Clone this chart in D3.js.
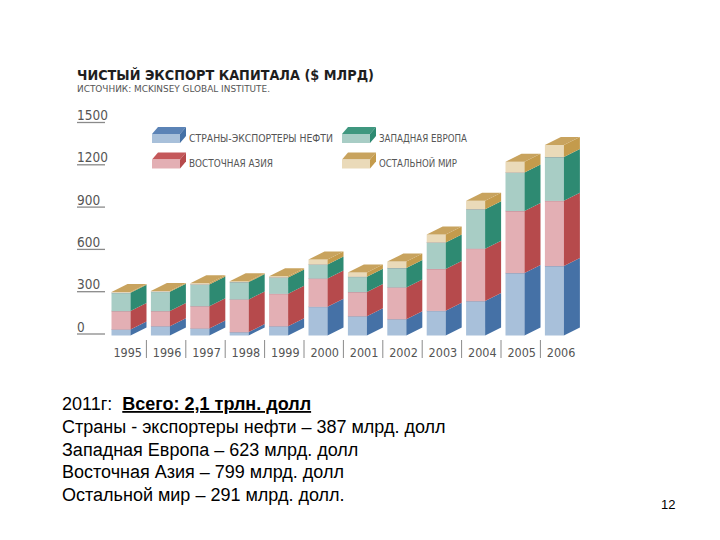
<!DOCTYPE html>
<html>
<head>
<meta charset="utf-8">
<style>
    body {
        margin: 0;
        background: #fff;
    }

    .title {
        font-family: "DejaVu Sans", sans-serif;
        font-weight: bold;
        font-size: 14px;
        fill: #1e1e1e;
    }

    .narrow {
        font-family: "Liberation Sans Narrow", "DejaVu Sans Condensed", sans-serif;
        fill: #555;
    }

    .note {
        font-family: "Liberation Sans", Arial, sans-serif;
        fill: #000;
    }
</style>
</head>

<body>
    <svg id='viz' width='720' height='540'></svg>

<script src="https://cdnjs.cloudflare.com/ajax/libs/d3/7.8.5/d3.min.js"></script>

<script>
    // values, $ bn
    var years = ['1995', '1996', '1997', '1998', '1999', '2000', '2001', '2002', '2003', '2004', '2005', '2006'];
    var oilExporters  = [43, 66, 50, 24, 66, 204, 137, 116, 175, 244, 443, 493];
    var eastAsia      = [130, 107, 158, 232, 230, 200, 171, 225, 297, 372, 440, 462];
    var westernEurope = [130, 138, 154, 123, 116, 100, 109, 138, 188, 280, 273, 311];
    var restOfWorld   = [5, 5, 8, 6, 8, 35, 29, 45, 57, 59, 76, 85];

    var seriesNames = ['СТРАНЫ-ЭКСПОРТЕРЫ НЕФТИ', 'ВОСТОЧНАЯ АЗИЯ', 'ЗАПАДНАЯ ЕВРОПА', 'ОСТАЛЬНОЙ МИР'];
    var yTicks = [0, 300, 600, 900, 1200, 1500];

    var noteLines = [
        'Страны - экспортеры нефти – 387 млрд. долл',
        'Западная Европа – 623 млрд. долл',
        'Восточная Азия – 799 млрд. долл',
        'Остальной мир – 291 млрд. долл.'
    ];

    // front / side / top shades per series (same order as the stack)
    var keys = ['oil', 'asia', 'europe', 'rest'];
    var shades = {
        oil:    { front: '#a8c0da', side: '#4571a6', top: '#5b83b6' },
        asia:   { front: '#e3afb4', side: '#b64a4c', top: '#c4585a' },
        europe: { front: '#a8cdc5', side: '#2e8a72', top: '#3f977f' },
        rest:   { front: '#eadab9', side: '#c49b4c', top: '#c8a35e' }
    };

    var rows = years.map(function(y, i) {
        return { year: y, oil: oilExporters[i], asia: eastAsia[i], europe: westernEurope[i], rest: restOfWorld[i] };
    });

    var svg = d3.select('#viz');

    var x = d3.scaleBand()
        .domain(years)
        .range([106, 106 + 39.4 * years.length]);

    var y = d3.scaleLinear()
        .domain([0, 1500])
        .range([335.5, 124]);

    var depthX = 16, depthY = 8, frontW = 19;

    // title
    svg.append('text')
        .attr('class', 'title')
        .attr('x', 77).attr('y', 79.5)
        .attr('textLength', 297)
        .attr('lengthAdjust', 'spacingAndGlyphs')
        .text('ЧИСТЫЙ ЭКСПОРТ КАПИТАЛА ($ МЛРД)');

    svg.append('text')
        .attr('class', 'narrow')
        .attr('x', 77).attr('y', 92)
        .attr('font-size', 9.5)
        .attr('textLength', 193)
        .attr('lengthAdjust', 'spacingAndGlyphs')
        .text('ИСТОЧНИК: MCKINSEY GLOBAL INSTITUTE.');

    // y ticks: label sitting on a short underline
    var tick = svg.append('g').selectAll('g')
        .data(yTicks)
        .enter().append('g');

    tick.append('line')
        .attr('x1', 77).attr('x2', 105)
        .attr('y1', function(d) { return y(d) - 1.5; })
        .attr('y2', function(d) { return y(d) - 1.5; })
        .attr('stroke', '#8a8a8a')
        .attr('stroke-width', 1.3);

    tick.append('text')
        .attr('class', 'narrow')
        .attr('x', 77)
        .attr('y', function(d) { return y(d) - 4; })
        .attr('font-size', 13.5)
        .text(function(d) { return d; });

    // stacked 3d bars
    var stacked = d3.stack().keys(keys)(rows);

    function sidePath(xr, y0, y1) {
        return 'M' + xr + ',' + y1 +
            'L' + (xr + depthX) + ',' + (y1 - depthY) +
            'L' + (xr + depthX) + ',' + (y0 - depthY) +
            'L' + xr + ',' + y0 + 'Z';
    }

    var bars = svg.append('g');

    stacked.forEach(function(layer) {
        var c = shades[layer.key];
        var g = bars.append('g');

        g.selectAll('rect')
            .data(layer)
            .enter().append('rect')
            .attr('x', function(d) { return x(d.data.year) + 5.5; })
            .attr('y', function(d) { return y(d[1]); })
            .attr('width', frontW)
            .attr('height', function(d) { return y(d[0]) - y(d[1]); })
            .attr('fill', c.front);

        g.selectAll('path')
            .data(layer)
            .enter().append('path')
            .attr('d', function(d) {
                return sidePath(x(d.data.year) + 5.5 + frontW, y(d[0]), y(d[1]));
            })
            .attr('fill', c.side);

        // faint seam between segments
        if (layer.key !== 'rest') {
            g.selectAll('line')
                .data(layer)
                .enter().append('line')
                .attr('x1', function(d) { return x(d.data.year) + 5.5; })
                .attr('x2', function(d) { return x(d.data.year) + 5.5 + frontW; })
                .attr('y1', function(d) { return y(d[1]); })
                .attr('y2', function(d) { return y(d[1]); })
                .attr('stroke', 'rgba(110,70,90,0.35)')
                .attr('stroke-width', 1);
        }
    });

    // top face of each column
    var topLayer = stacked[stacked.length - 1];
    bars.selectAll('path.top')
        .data(topLayer)
        .enter().append('path')
        .attr('class', 'top')
        .attr('d', function(d) {
            var x0 = x(d.data.year) + 5.5, x1 = x0 + frontW, yt = y(d[1]);
            return 'M' + x0 + ',' + yt + 'L' + x1 + ',' + yt +
                'L' + (x1 + depthX) + ',' + (yt - depthY) +
                'L' + (x0 + depthX) + ',' + (yt - depthY) + 'Z';
        })
        .attr('fill', shades.rest.top);

    // year labels and separators
    svg.append('g').selectAll('line')
        .data(years.slice(1))
        .enter().append('line')
        .attr('x1', function(d) { return x(d) + 1; })
        .attr('x2', function(d) { return x(d) + 1; })
        .attr('y1', 340).attr('y2', 358)
        .attr('stroke', '#8a8a8a')
        .attr('stroke-width', 1);

    svg.append('g').selectAll('text')
        .data(years)
        .enter().append('text')
        .attr('class', 'narrow')
        .attr('x', function(d) { return x(d) + x.bandwidth() / 2 + 2; })
        .attr('y', 356.5)
        .attr('font-size', 12.5)
        .attr('text-anchor', 'middle')
        .attr('fill', '#444')
        .text(function(d) { return d; });

    // legend: two columns, flat boxes
    var legendPos = [
        { key: 'oil',    x: 152, y: 134, w: 144 },
        { key: 'asia',   x: 152, y: 159.5, w: 84 },
        { key: 'europe', x: 342, y: 134, w: 88 },
        { key: 'rest',   x: 342, y: 159.5, w: 78 }
    ];
    var legendOrder = ['oil', 'asia', 'europe', 'rest'];

    var item = svg.append('g').selectAll('g')
        .data(legendPos)
        .enter().append('g')
        .attr('transform', function(d) { return 'translate(' + d.x + ',' + d.y + ')'; });

    item.append('path')
        .attr('d', 'M0,0L28,0L34,-7L6,-7Z')
        .attr('fill', function(d) { return shades[d.key].top; });
    item.append('rect')
        .attr('x', 0).attr('y', 0)
        .attr('width', 28).attr('height', 9)
        .attr('fill', function(d) { return shades[d.key].front; });
    item.append('path')
        .attr('d', 'M28,0L34,-7L34,2L28,9Z')
        .attr('fill', function(d) { return shades[d.key].side; });

    item.append('text')
        .attr('class', 'narrow')
        .attr('x', 37).attr('y', 7.5)
        .attr('font-size', 11)
        .attr('textLength', function(d) { return d.w; })
        .attr('lengthAdjust', 'spacingAndGlyphs')
        .text(function(d) { return seriesNames[legendOrder.indexOf(d.key)]; });

    // notes under the chart
    var head = svg.append('text')
        .attr('class', 'note')
        .attr('font-size', 18)
        .attr('x', 62).attr('y', 410);
    head.append('tspan').text('2011г:');
    head.append('tspan')
        .attr('dx', 10)
        .attr('font-weight', 'bold')
        .attr('text-decoration', 'underline')
        .text('Всего: 2,1 трлн. долл');

    svg.append('g').selectAll('text')
        .data(noteLines)
        .enter().append('text')
        .attr('class', 'note')
        .attr('font-size', 18)
        .attr('x', 62)
        .attr('y', function(d, i) { return 433 + i * 22.5; })
        .text(function(d) { return d; });

    svg.append('text')
        .attr('class', 'note')
        .attr('x', 661).attr('y', 509)
        .attr('font-size', 13)
        .attr('fill', '#333')
        .text('12');
</script>
</body>
</html>
